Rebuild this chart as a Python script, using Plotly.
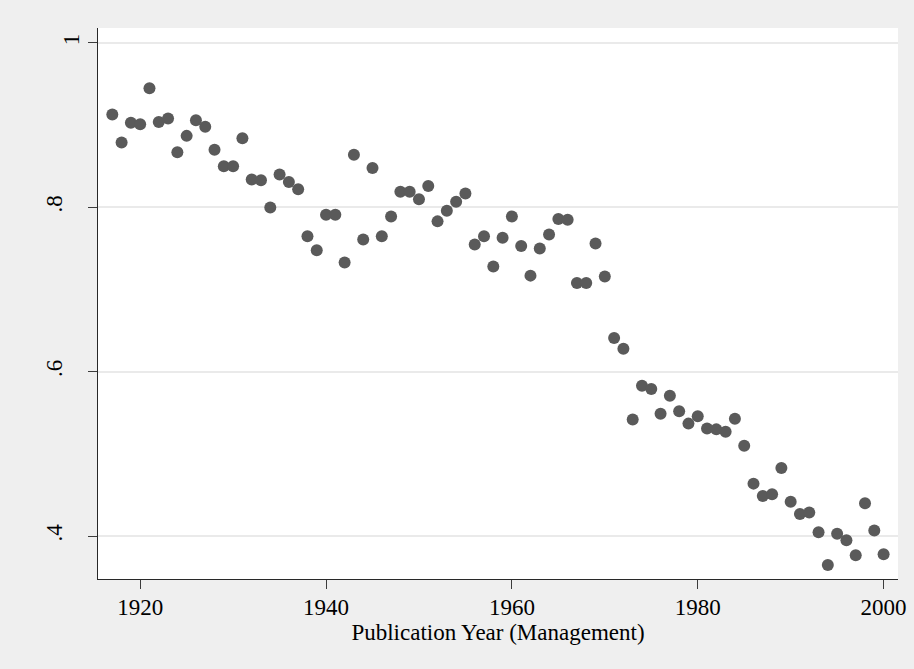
import plotly.graph_objects as go

years = list(range(1917, 2001))
share = [
    0.913, 0.879, 0.903, 0.901, 0.945, 0.904, 0.908, 0.867, 0.887, 0.906,
    0.898, 0.870, 0.850, 0.850, 0.884, 0.834, 0.833, 0.800, 0.840, 0.831,
    0.822, 0.765, 0.748, 0.791, 0.791, 0.733, 0.864, 0.761, 0.848, 0.765,
    0.789, 0.819, 0.819, 0.810, 0.826, 0.783, 0.796, 0.807, 0.817, 0.755,
    0.765, 0.728, 0.763, 0.789, 0.753, 0.717, 0.750, 0.767, 0.786, 0.785,
    0.708, 0.708, 0.756, 0.716, 0.641, 0.628, 0.542, 0.583, 0.579, 0.549,
    0.571, 0.552, 0.537, 0.546, 0.531, 0.530, 0.527, 0.543, 0.510, 0.464,
    0.449, 0.451, 0.483, 0.442, 0.427, 0.429, 0.405, 0.365, 0.403, 0.395,
    0.377, 0.440, 0.407, 0.378,
]
x_ticks = [1920, 1940, 1960, 1980, 2000]
y_ticks = [0.4, 0.6, 0.8, 1.0]
y_tick_labels = [".4", ".6", ".8", "1"]
y_range = [0.348, 1.0182]

fig = go.Figure()
fig.add_trace(go.Scatter(
    x=years, y=share, mode="markers",
    marker=dict(size=12, color="rgb(90,90,90)", line=dict(width=0)),
    showlegend=False,
))
# empty helper trace so the overlay axis carrying the "1" label is drawn
fig.add_trace(go.Scatter(x=[], y=[], yaxis="y2", mode="markers",
                         showlegend=False, hoverinfo="skip"))

font = dict(family="Liberation Serif, Times New Roman, serif", size=23, color="black")
# Stata draws the "1" label closer to the axis than the decimal labels
main_text = [t if t != "1" else "" for t in y_tick_labels]
one_vals = [v for v, t in zip(y_ticks, y_tick_labels) if t == "1"]

fig.update_layout(
    width=914, height=669,
    margin=dict(l=97.5, r=16.3, t=28.3, b=89.7, autoexpand=False),
    paper_bgcolor="rgb(239,239,239)",
    plot_bgcolor="white",
    font=font,
    xaxis=dict(
        range=[1915.46, 2001.55],
        tickvals=x_ticks, ticktext=[str(v) for v in x_ticks],
        ticks="outside", ticklen=9, tickwidth=1, tickcolor="rgb(60,60,60)",
        ticklabelstandoff=-2,
        showline=True, linecolor="rgb(40,40,40)", linewidth=1.2,
        showgrid=False, zeroline=False, automargin=False,
        title=dict(text="Publication Year (Management)", standoff=0, font=font),
    ),
    yaxis=dict(
        range=y_range,
        tickvals=y_ticks, ticktext=main_text, tickangle=-90,
        ticks="outside", ticklen=9, tickwidth=1, tickcolor="rgb(60,60,60)",
        ticklabelstandoff=17,
        showline=True, linecolor="rgb(40,40,40)", linewidth=1.2,
        showgrid=True, gridcolor="rgb(234,234,234)", gridwidth=2,
        zeroline=False, automargin=False,
    ),
    yaxis2=dict(
        range=y_range, overlaying="y", side="left", anchor="x",
        tickvals=one_vals, ticktext=["1"], tickangle=-90,
        ticks="outside", ticklen=9, tickcolor="rgba(0,0,0,0)",
        showline=False, showgrid=False, zeroline=False, automargin=False,
    ),
)

fig.write_html(
    "out.html",
    config={"displayModeBar": False, "responsive": False},
    post_script="document.body.style.margin='0';document.body.style.padding='0';document.body.style.overflow='hidden';document.documentElement.style.overflow='hidden';",
)
